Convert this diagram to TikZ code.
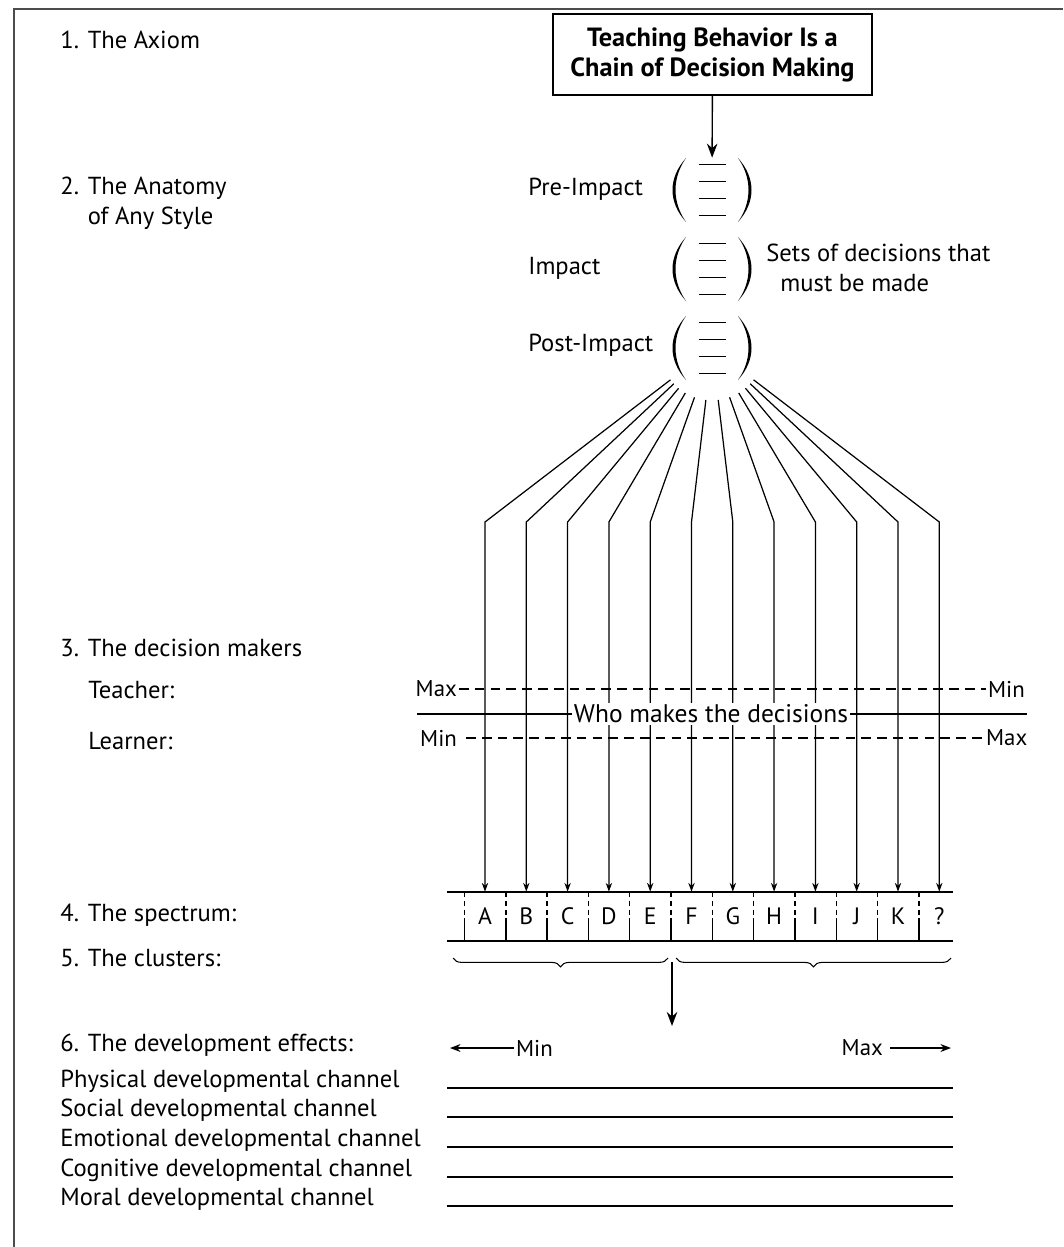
\documentclass[tikz,border=0pt]{standalone}
\usepackage{fontspec}
\setmainfont{PT Sans}
\usetikzlibrary{arrows.meta,decorations.pathreplacing}

\begin{document}
\begin{tikzpicture}[x=0.02cm,y=-0.02cm]
    % styles
    \tikzset{
        lab/.style={anchor=west, inner sep=0pt, font=\fontsize{14}{17}\selectfont},
        mm/.style={inner sep=1pt, font=\fontsize{13}{17}\selectfont},
        setbox/.style={rectangle, minimum width=1.7cm, minimum height=1.28cm, inner sep=0pt},
        cell/.style={minimum height=0.98cm, inner sep=0pt, font=\fontsize{13.5}{17}\selectfont},
        fanline/.style={line width=0.7pt, -{Stealth[length=5pt,width=3.6pt]}},
        bar/.style={line width=1pt},
        bigarrow/.style={line width=0.8pt, -{Stealth[length=8pt,width=6pt]}},
        clusterbrace/.style={decorate, decoration={brace, mirror, amplitude=5pt}, line width=0.6pt},
    }

    \useasboundingbox (0,0) rectangle (1063,1247);

    % frame
    \draw[line width=1.6pt, black!70] (14,1247) -- (14,9) -- (1063,9);

    % section labels
    \node[lab] (s1) at (60,40) {1. The Axiom};
    \node[lab, align=left] (s2) at (60,203) {2. The Anatomy\\\phantom{2. }of Any Style};
    \node[lab] (s3) at (60,648) {3. The decision makers};
    \node[lab] (teacher) at (88,690) {Teacher:};
    \node[lab] (learner) at (88,741) {Learner:};
    \node[lab] (s4) at (60,915) {4. The spectrum:};
    \node[lab] (s5) at (60,958) {5. The clusters:};
    \node[lab] (s6) at (60,1045) {6. The development effects:};

    % the axiom
    \node[draw, line width=0.8pt, minimum width=6.38cm, minimum height=1.62cm, align=center,
          font=\fontsize{15}{17}\selectfont\bfseries] (axiom) at (712.5,54.5)
          {Teaching Behavior Is a\\Chain of Decision Making};

    % sets of decisions
    \node[setbox] (pre) at (712,190) {};
    \node[setbox] (imp) at (712,269) {};
    \node[setbox, circle, minimum size=2.08cm] (post) at (712,348) {};
    \draw[bigarrow] (axiom) -- (pre);

    \node[lab] (pre-lab) at (528,189) {Pre-Impact};
    \node[lab] (imp-lab) at (528,268) {Impact};
    \node[lab] (post-lab) at (528,345) {Post-Impact};
    \node[lab, align=left] (sets) at (766,268) {Sets of decisions that\\\hspace{8pt}must be made};

    \foreach \s in {pre,imp,post} {
        \fill ([shift={(-26,-32)}]\s.center) .. controls ([shift={(-44,-12)}]\s.center) and ([shift={(-44,12)}]\s.center) .. ([shift={(-26,32)}]\s.center)
              .. controls ([shift={(-40,12)}]\s.center) and ([shift={(-40,-12)}]\s.center) .. ([shift={(-26,-32)}]\s.center);
        \fill ([shift={(26,-32)}]\s.center) .. controls ([shift={(44,-12)}]\s.center) and ([shift={(44,12)}]\s.center) .. ([shift={(26,32)}]\s.center)
              .. controls ([shift={(40,12)}]\s.center) and ([shift={(40,-12)}]\s.center) .. ([shift={(26,-32)}]\s.center);
        \foreach \dy in {-25.5,-8.5,8.5,25.5}
            \draw[line width=1.1pt] ([shift={(-13.5,\dy)}]\s.center) -- ([shift={(13.5,\dy)}]\s.center);
    }

    % fan of decisions down to the spectrum
    \foreach \l [count=\i from 0] in {A,B,C,D,E,F,G,H,I,J,K,?} {
        \node[cell] (c\i) at ({485+41.3*\i},916.5) {\l};
        \coordinate (b\i) at ({485+41.3*\i},522);
        \draw[fanline] (post) -- (b\i) -- (c\i.north);
    }

    % the spectrum
    \draw[bar] (447,892) -- (953,892);
    \draw[bar] (447,941) -- (953,941);
    \foreach \i in {0,...,11} {
        \draw[line width=0.8pt, dash pattern=on 3pt off 2pt] ({464.5+41.3*\i},892) -- ({464.5+41.3*\i},922);
        \draw[line width=0.8pt] ({464.5+41.3*\i},922) -- ({464.5+41.3*\i},941);
    }

    % who makes the decisions
    \node[mm, anchor=east] (tmax) at (459,689) {Max};
    \node[mm, anchor=west] (tmin) at (986,689) {Min};
    \draw[line width=0.8pt, dash pattern=on 5.5pt off 3.5pt] (tmax) -- (tmin);
    \node[mm, anchor=east] (lmin) at (459,738) {Min};
    \node[mm, anchor=west] (lmax) at (984,738) {Max};
    \draw[line width=0.8pt, dash pattern=on 5.5pt off 3.5pt, shorten <=4pt] (lmin) -- (lmax);
    \draw[line width=0.8pt] (417,714) -- (1027,714);
    \node[mm, fill=white, font=\fontsize{14.5}{17}\selectfont] (who) at (711,714) {Who makes the decisions};

    % the clusters
    \draw[clusterbrace] (453,958) -- (668,958);
    \draw[clusterbrace] (676,958) -- (951,958);
    \coordinate (join) at (672,962);
    \coordinate (down) at (672,1026);
    \draw[bigarrow] (join) -- (down);

    % development effects
    \node[mm, anchor=west] (dmin) at (514,1048) {Min};
    \coordinate (dleft) at (450,1048);
    \draw[line width=0.8pt, -{Stealth[length=6pt,width=4.5pt]}] (dmin) -- (dleft);
    \node[mm, anchor=east] (dmax) at (885,1048) {Max};
    \coordinate (dright) at (951,1048);
    \draw[line width=0.8pt, -{Stealth[length=6pt,width=4.5pt]}, shorten <=3pt] (dmax) -- (dright);

    \foreach \t/\y in {Physical/1081, Social/1110, Emotional/1140, Cognitive/1170, Moral/1199} {
        \node[lab] (\t) at (60,\y) {\t\ developmental channel};
        \draw[bar] (447,{\y+7}) -- (953,{\y+7});
    }
\end{tikzpicture}
\end{document}
